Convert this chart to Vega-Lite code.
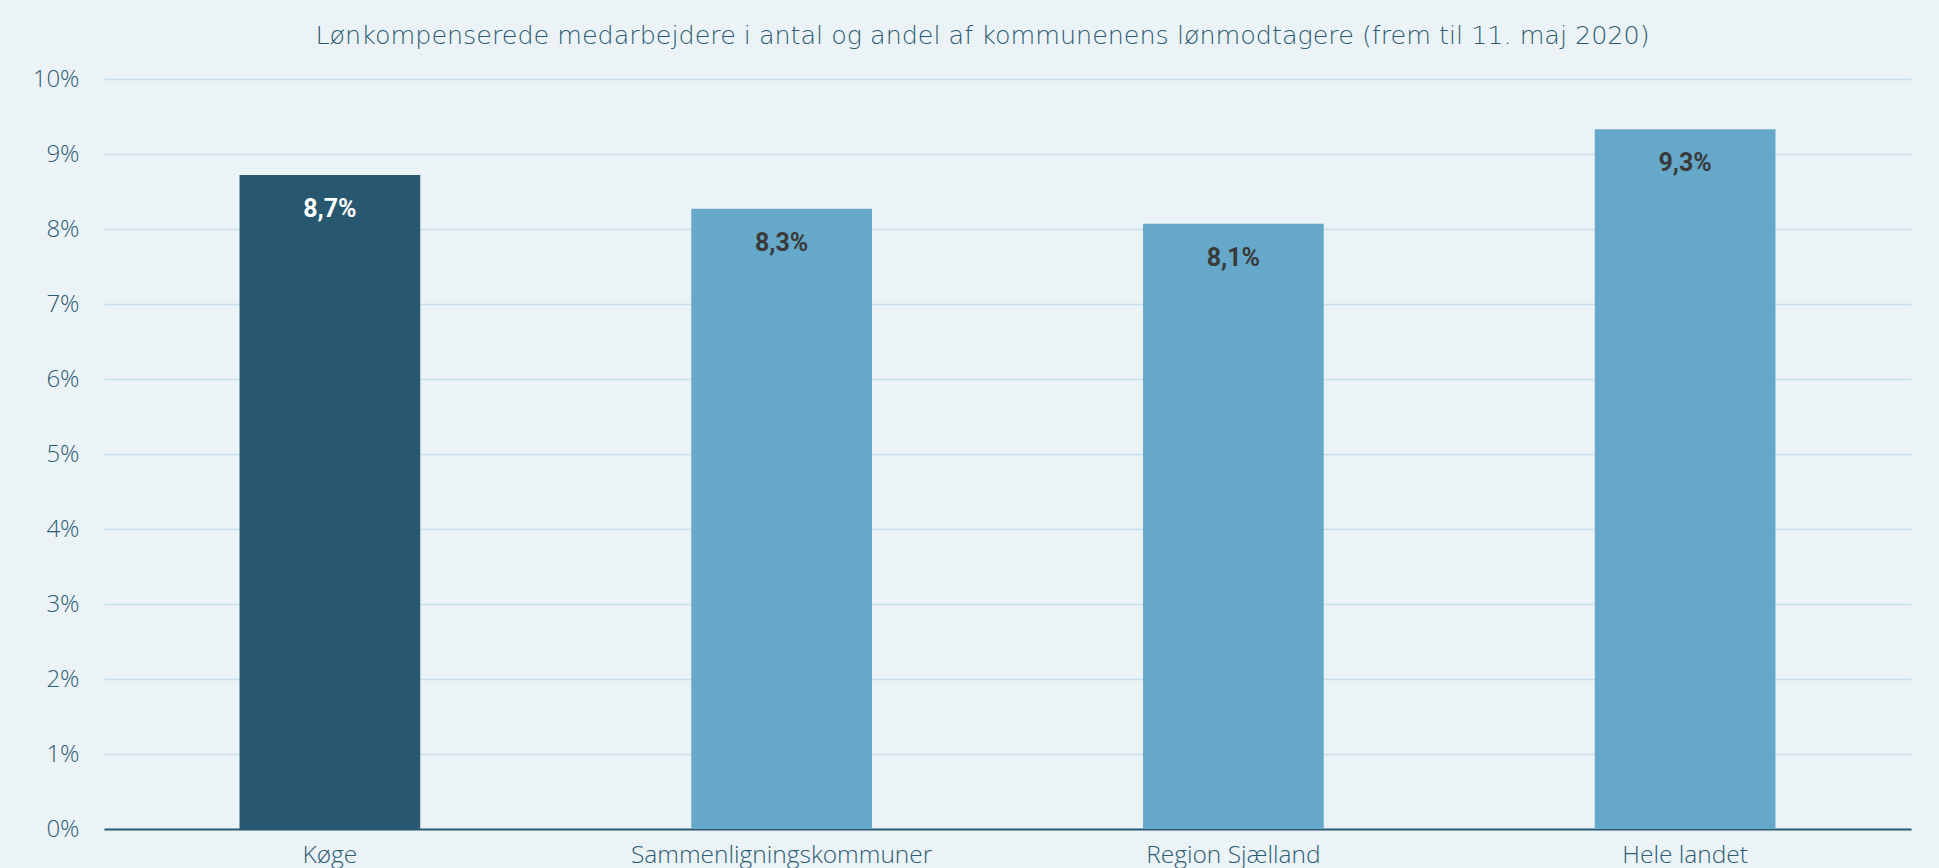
{
  "$schema": "https://vega.github.io/schema/vega-lite/v6.json",
  "autosize": "none",
  "width": 1807,
  "height": 750,
  "padding": {"left": 104, "top": 79, "right": 28, "bottom": 39},
  "background": "#EBF3F7",
  "config": {"view": {"stroke": null}},
  "title": {
    "text": "Lønkompenserede medarbejdere i antal og andel af kommunenens lønmodtagere (frem til 11. maj 2020)",
    "font": "DejaVu Sans",
    "fontSize": 25.4,
    "fontWeight": 200,
    "color": "#2B5A72",
    "dx": -25,
    "offset": 18
  },
  "data": {
    "values": [
      {"omraade": "Køge", "andel": 0.0872, "label": "8,7%"},
      {"omraade": "Sammenligningskommuner", "andel": 0.0827, "label": "8,3%"},
      {"omraade": "Region Sjælland", "andel": 0.0807, "label": "8,1%"},
      {"omraade": "Hele landet", "andel": 0.0933, "label": "9,3%"}
    ]
  },
  "encoding": {
    "x": {
      "field": "omraade",
      "type": "nominal",
      "sort": null,
      "scale": {"paddingInner": 0.6, "paddingOuter": 0.3},
      "axis": {
        "title": null,
        "labelAngle": 0,
        "labelLimit": 0,
        "ticks": false,
        "domain": true,
        "domainColor": "#2B5A72",
        "domainWidth": 2,
        "labelFont": "Open Sans",
        "labelFontSize": 24.5,
        "labelFontWeight": 300,
        "labelColor": "#2E5C74",
        "labelPadding": 14
      }
    },
    "y": {
      "field": "andel",
      "type": "quantitative",
      "scale": {"domain": [0, 0.1], "nice": false},
      "axis": {
        "title": null,
        "values": [0, 0.01, 0.02, 0.03, 0.04, 0.05, 0.06, 0.07, 0.08, 0.09, 0.1],
        "format": ".0%",
        "grid": true,
        "gridColor": "#C6DFEA",
        "gridWidth": 1.5,
        "domain": false,
        "ticks": false,
        "labelFont": "Open Sans",
        "labelFontSize": 24,
        "labelFontWeight": 300,
        "labelColor": "#2E5C74",
        "labelPadding": 25
      }
    }
  },
  "layer": [
    {
      "mark": {"type": "bar"},
      "encoding": {
        "color": {
          "field": "omraade",
          "type": "nominal",
          "scale": {
            "domain": ["Køge", "Sammenligningskommuner", "Region Sjælland", "Hele landet"],
            "range": ["#285870", "#65A8C9", "#65A8C9", "#65A8C9"]
          },
          "legend": null
        }
      }
    },
    {
      "mark": {"type": "text", "baseline": "middle", "dy": 34, "font": "Roboto", "fontSize": 25, "fontWeight": "bold"},
      "encoding": {
        "text": {"field": "label"},
        "color": {
          "condition": {"test": "datum.omraade === 'Køge'", "value": "#FFFFFF"},
          "value": "#3A3A3A"
        }
      }
    }
  ]
}
